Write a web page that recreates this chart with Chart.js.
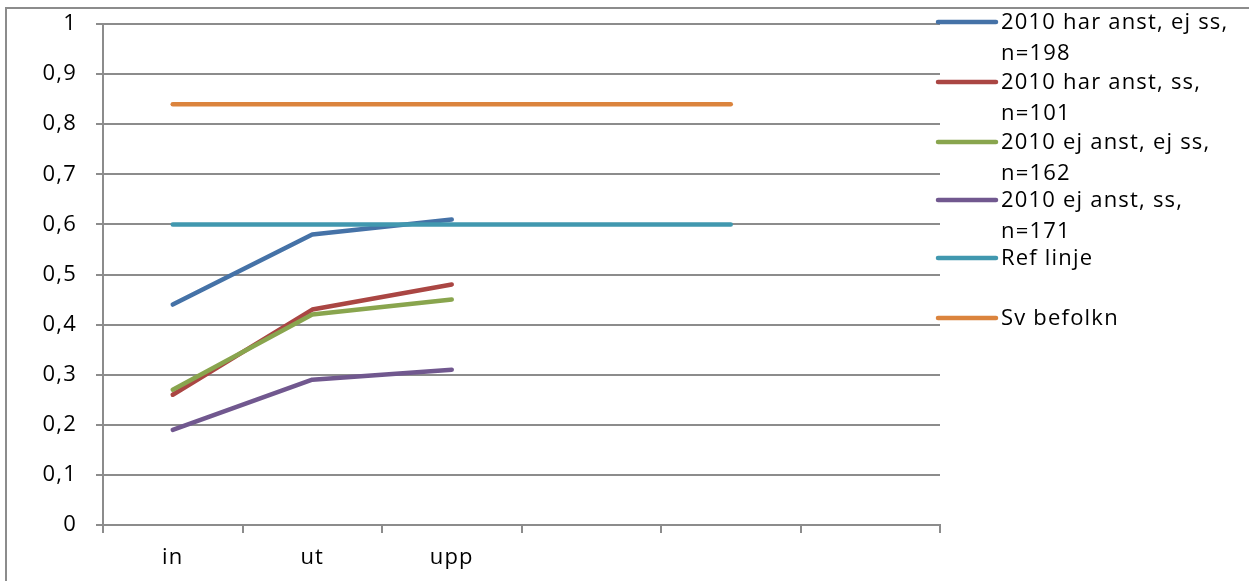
<!DOCTYPE html>
<html>
<head>
<meta charset="utf-8">
<title>Andel per steg</title>
<script src="https://cdn.jsdelivr.net/npm/chart.js@4/dist/chart.umd.min.js"></script>
<style>
  html, body { margin: 0; padding: 0; background: #fff; }
  #wrap { width: 1249px; height: 581px; }
</style>
</head>
<body>
<div id="wrap"><canvas id="c" width="1249" height="581"></canvas></div>
<script>
// Categories along the x axis (last three are empty slots)
const categories = ["in", "ut", "upp", "", "", ""];

// Y tick labels, Swedish decimal comma
const yTickLabels = ["0", "0,1", "0,2", "0,3", "0,4", "0,5", "0,6", "0,7", "0,8", "0,9", "1"];

// Series values
const harAnstEjSs = [0.44, 0.58, 0.61, null, null, null];
const harAnstSs   = [0.26, 0.43, 0.48, null, null, null];
const ejAnstEjSs  = [0.27, 0.42, 0.45, null, null, null];
const ejAnstSs    = [0.19, 0.29, 0.31, null, null, null];
const refLinje    = [0.6, 0.6, 0.6, 0.6, 0.6, null];
const svBefolkn   = [0.84, 0.84, 0.84, 0.84, 0.84, null];

// Legend text, wrapped as shown
const seriesNames = [
  ["2010 har anst, ej ss,", "n=198"],
  ["2010 har anst, ss,", "n=101"],
  ["2010 ej anst, ej ss,", "n=162"],
  ["2010 ej anst, ss,", "n=171"],
  ["Ref linje"],
  ["Sv befolkn"]
];

const seriesData = [harAnstEjSs, harAnstSs, ejAnstEjSs, ejAnstSs, refLinje, svBefolkn];
const seriesColors = ["#4572A7", "#AA4643", "#89A54E", "#71588F", "#4198AF", "#DB843D"];

const FONT = "'Open Sans', 'DejaVu Sans', sans-serif";
const FONT_SIZE = 22;
const SPACING = "1.2px";
const GRID = "#8c8c8c";

const datasets = seriesData.map((d, i) => ({
  label: seriesNames[i].join(" "),
  data: d,
  borderColor: seriesColors[i],
  backgroundColor: seriesColors[i],
  borderWidth: 4.5,
  pointRadius: 0,
  pointHoverRadius: 0,
  tension: 0,
  fill: false,
  spanGaps: false,
  borderCapStyle: "round",
  borderJoinStyle: "round",
  order: seriesData.length - i
}));

// Letter spacing for all canvas text, plus white page and outer frame line
const framePlugin = {
  id: "frame",
  beforeUpdate(chart) { chart.ctx.letterSpacing = SPACING; },
  beforeLayout(chart) { chart.ctx.letterSpacing = SPACING; },
  beforeDraw(chart) {
    const ctx = chart.ctx;
    ctx.letterSpacing = SPACING;
    ctx.save();
    ctx.fillStyle = "#fff";
    ctx.fillRect(0, 0, chart.width, chart.height);
    ctx.strokeStyle = GRID;
    ctx.lineWidth = 2;
    ctx.strokeRect(6, 8, chart.width + 20, chart.height + 20);
    ctx.restore();
  }
};

// Legend on the right with wrapped entries
const sideLegend = {
  id: "sideLegend",
  afterDraw(chart) {
    const ctx = chart.ctx;
    const x0 = 938, x1 = 996, tx = 1001;
    const rows = [22, 82, 142, 200, 258, 318];
    ctx.save();
    ctx.letterSpacing = SPACING;
    ctx.font = FONT_SIZE + "px " + FONT;
    ctx.textBaseline = "middle";
    ctx.textAlign = "left";
    seriesNames.forEach((lines, i) => {
      const y = rows[i];
      ctx.strokeStyle = seriesColors[i];
      ctx.lineWidth = 4.5;
      ctx.lineCap = "round";
      ctx.beginPath();
      ctx.moveTo(x0, y);
      ctx.lineTo(x1, y);
      ctx.stroke();
      ctx.fillStyle = "#000";
      lines.forEach((t, k) => ctx.fillText(t, tx, y + 1 + k * 31));
    });
    ctx.restore();
  }
};

new Chart(document.getElementById("c"), {
  type: "line",
  data: { labels: categories, datasets },
  plugins: [framePlugin, sideLegend],
  options: {
    responsive: false,
    devicePixelRatio: 1,
    animation: false,
    layout: { padding: { left: 0, right: 309, top: 24, bottom: 0 } },
    plugins: { legend: { display: false }, tooltip: { enabled: false } },
    scales: {
      x: {
        type: "category",
        offset: true,
        grid: {
          offset: true,
          drawOnChartArea: false,
          drawTicks: true,
          tickLength: 8,
          color: GRID,
          lineWidth: 2
        },
        border: { color: GRID, width: 2 },
        ticks: {
          color: "#000",
          font: { family: FONT, size: FONT_SIZE },
          padding: 12,
          maxRotation: 0,
          autoSkip: false
        },
        afterFit(s) { s.height = 56; s.paddingLeft = 0; s.paddingRight = 0; }
      },
      y: {
        min: 0,
        max: 1,
        grid: {
          color: GRID,
          lineWidth: 2,
          drawTicks: true,
          tickLength: 7
        },
        border: { color: GRID, width: 2 },
        ticks: {
          stepSize: 0.1,
          color: "#000",
          font: { family: FONT, size: FONT_SIZE },
          padding: 19,
          callback: (v, idx) => yTickLabels[idx]
        },
        afterFit(s) { s.width = 103; s.paddingTop = 0; s.paddingBottom = 0; }
      }
    }
  }
});
</script>
</body>
</html>
